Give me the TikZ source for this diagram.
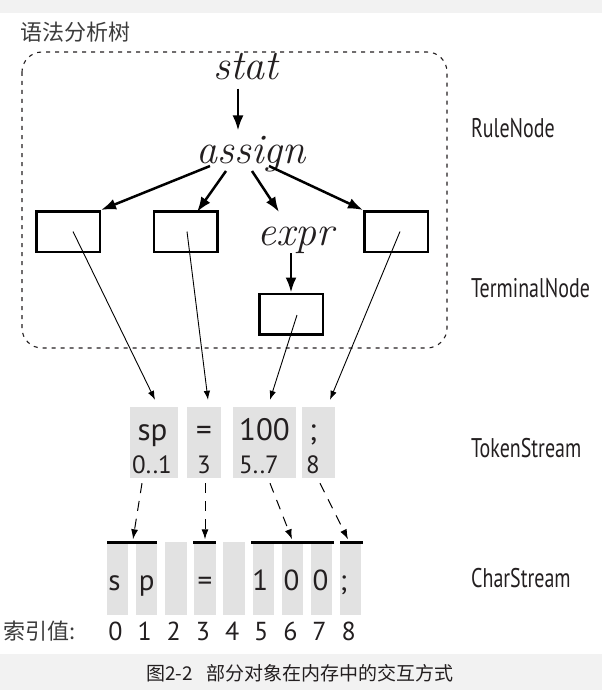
\documentclass[tikz,border=0pt]{standalone}
\usepackage{fontspec}
\usepackage{tikz}
\usetikzlibrary{arrows.meta,positioning,calc}
\newfontfamily\cjkfont{Noto Sans CJK SC}
\newfontfamily\condfont[FakeStretch=0.74]{PT Sans}
\newfontfamily\plainsans{PT Sans}
\definecolor{bandgray}{RGB}{242,242,242}
\definecolor{cellgray}{RGB}{226,226,226}
\definecolor{textgray}{RGB}{60,60,60}
\definecolor{inkblack}{RGB}{35,31,32}
\tikzset{
  rulenode/.style={inner sep=2pt, anchor=base, text=inkblack, font=\fontsize{42}{42}\selectfont\itshape},
  leafbox/.style={rectangle, draw=black, line width=2.5pt, minimum width=63.5pt, minimum height=40.5pt, inner sep=0pt},
  treearrow/.style={-{Latex[length=15pt,width=11pt]}, line width=2.5pt},
  linkarrow/.style={-{Latex[length=9pt,width=6.5pt]}, line width=0.9pt},
  chararrow/.style={-{Latex[length=10pt,width=7pt]}, line width=1pt, dash pattern=on 10pt off 8pt},
  tokbox/.style={rectangle, fill=cellgray, minimum height=71pt, inner sep=0pt},
  toktext/.style={anchor=base, inner sep=0pt, text=inkblack, font=\plainsans\fontsize{31}{31}\selectfont},
  tokrange/.style={anchor=base, inner sep=0pt, text=inkblack, font=\plainsans\fontsize{25}{25}\selectfont},
  cellbox/.style={rectangle, fill=cellgray, minimum width=21.5pt, minimum height=73pt, inner sep=0pt},
  celltext/.style={anchor=base, inner sep=0pt, text=inkblack, font=\plainsans\fontsize{29}{29}\selectfont},
  idxtext/.style={anchor=base, inner sep=0pt, text=inkblack, font=\plainsans\fontsize{26}{26}\selectfont},
  spanbar/.style={rectangle, fill=black, minimum height=3pt, inner sep=0pt},
  streamlabel/.style={anchor=base west, inner sep=0pt, text=inkblack, font=\condfont\fontsize{27}{27}\selectfont},
  cjklabel/.style={inner sep=0pt, text=textgray, font=\cjkfont\fontsize{22}{22}\selectfont},
}

\begin{document}
\begin{tikzpicture}[x=1pt,y=-1pt]
  \useasboundingbox (0,0) rectangle (602,690);
  \fill[bandgray] (0,0) rectangle (602,13);
  \fill[bandgray] (0,654) rectangle (602,690);

  % parse tree
  \node[cjklabel, anchor=base west] (treetitle) at (20,40.5) {语法分析树};
  \draw[inkblack, line width=1.1pt, dash pattern=on 4pt off 5pt, rounded corners=20pt] (22,52) rectangle (447,348);
  \node[rulenode] (stat) at (246,80) {stat};
  \node[rulenode] (assign) at (251,163) {assign};
  \node[rulenode] (expr) at (296,245) {expr};
  \node[leafbox] (leafsp) at (68,231.5) {};
  \node[leafbox] (leafeq) at (185.5,231.5) {};
  \node[leafbox] (leafsemi) at (396,231.5) {};
  \node[leafbox] (leafnum) at (291,314) {};

  \draw[treearrow] ([shift={(-8,6)}]stat.south) -- ([shift={(-13,-3)}]assign.north);
  \draw[treearrow] ([shift={(-41,3)}]assign.base) -- (leafsp.north east);
  \draw[treearrow] ([shift={(-25,8)}]assign.base) -- ([shift={(11.5,2)}]leafeq.north);
  \draw[treearrow] ([shift={(1,8)}]assign.base) -- ([shift={(-17,-33)}]expr.base);
  \draw[treearrow] ([shift={(18,3)}]assign.base) -- (leafsemi.north west);
  \draw[treearrow] ([shift={(-5,8)}]expr.base) -- (leafnum.north);

  % token stream
  \node[tokbox, minimum width=48pt] (tksp) at (154,442.5) {};
  \node[tokbox, minimum width=34pt] (tkeq) at (204,442.5) {};
  \node[tokbox, minimum width=63pt] (tknum) at (264.5,442.5) {};
  \node[tokbox, minimum width=33pt] (tksemi) at (318.5,442.5) {};
  \node[toktext] (tksp-txt) at (152.5,440) {sp};
  \node[tokrange] (tksp-idx) at (152,473) {0..1};
  \node[toktext] (tkeq-txt) at (204,440) {=};
  \node[tokrange] (tkeq-idx) at (204,473) {3};
  \node[toktext] (tknum-txt) at (264.5,440) {100};
  \node[tokrange] (tknum-idx) at (259,473) {5..7};
  \node[toktext] (tksemi-txt) at (313,440) {;};
  \node[tokrange] (tksemi-idx) at (313,473) {8};

  \draw[linkarrow] ([shift={(5,0)}]leafsp.center) -- ([shift={(1,-7)}]tksp.north);
  \draw[linkarrow] ([shift={(1.5,0)}]leafeq.center) -- ([shift={(4,-7)}]tkeq.north);
  \draw[linkarrow] ([shift={(6,1)}]leafnum.center) -- ([shift={(5.5,-7)}]tknum.north);
  \draw[linkarrow] ([shift={(4,0)}]leafsemi.center) -- ([shift={(11.5,-7)}]tksemi.north);

  % char stream
  \foreach \i in {0,...,8} {
    \node[cellbox] (cell\i) at (117.5+29.15*\i,578.5) {};
    \node[idxtext] (idx\i) at (115.5+29.15*\i,640) {\i};
  }
  \foreach \i/\c/\dx in {0/s/-3,1/p/0,3/=/0,5/1/-3,6/0/-1,7/0/-1,8/;/-7} {
    \node[celltext] (char\i) at (117.5+29.15*\i+\dx,590) {\c};
  }
  \node[spanbar, minimum width=50pt] (barsp) at (132,542) {};
  \node[spanbar, minimum width=23pt] (bareq) at (204.5,542) {};
  \node[spanbar, minimum width=83pt] (barnum) at (292.5,542) {};
  \node[spanbar, minimum width=23pt] (barsemi) at (351.5,542) {};

  \draw[chararrow] ([shift={(-12,5)}]tksp.south) -- ([shift={(1,-1)}]barsp.north);
  \draw[chararrow] ([shift={(1,5)}]tkeq.south) -- ([shift={(0.5,-1)}]bareq.north);
  \draw[chararrow] ([shift={(5.5,5)}]tknum.south) -- ([shift={(-0.5,-1)}]barnum.north);
  \draw[chararrow] ([shift={(1.5,5)}]tksemi.south) -- ([shift={(-3.5,-1)}]barsemi.north);

  \node[cjklabel, anchor=base west] (idxlbl) at (3,639) {索引值:};

  % layer names
  \node[streamlabel] (rulelbl) at (471,137) {RuleNode};
  \node[streamlabel] (termlbl) at (471,297) {TerminalNode};
  \node[streamlabel] (toklbl) at (471,457) {TokenStream};
  \node[streamlabel] (charlbl) at (471,587) {CharStream};

  \node[cjklabel, text=inkblack, font=\cjkfont\fontsize{19}{19}\selectfont] (caption) at (300,673) {图2-2\hspace{14pt}部分对象在内存中的交互方式};
\end{tikzpicture}
\end{document}
